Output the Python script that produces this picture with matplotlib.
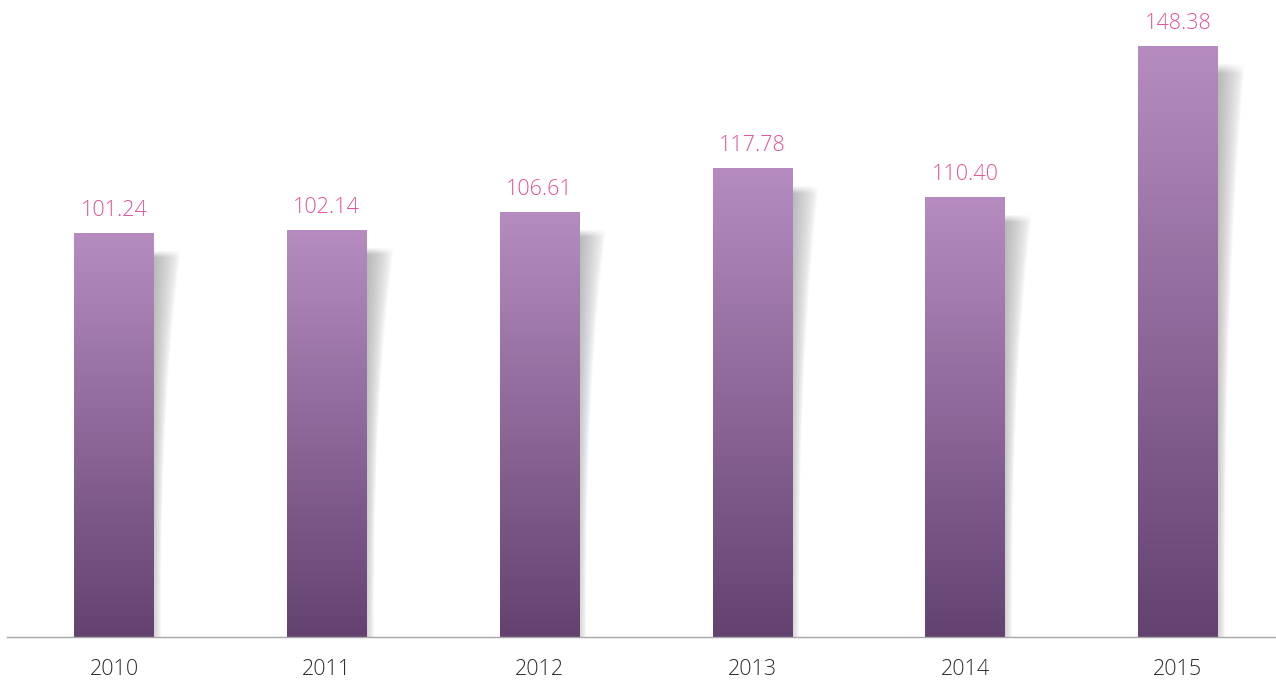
import numpy as np
import matplotlib
matplotlib.use("Agg")
import matplotlib.pyplot as plt
from matplotlib.colors import LinearSegmentedColormap

years = ["2010", "2011", "2012", "2013", "2014", "2015"]
values = [101.24, 102.14, 106.61, 117.78, 110.40, 148.38]

bar_top_color = "#b68cc0"
bar_bottom_color = "#634270"
label_color = "#e0559a"
tick_color = "#2e2e2e"
axis_color = "#a8a8a8"

plt.rcParams["font.family"] = ["Open Sans", "DejaVu Sans"]

W, H, DPI = 1276, 681, 100
fig = plt.figure(figsize=(W / DPI, H / DPI), dpi=DPI)
ax = fig.add_axes([7 / W, 44 / H, 1268 / W, 637 / H])

x = np.arange(len(years))
bar_w = 0.374
ax.set_xlim(-0.503, len(years) - 1 + 0.456)
ax.set_ylim(0, 160)

# pixel -> data conversion helpers
px_x = (ax.get_xlim()[1] - ax.get_xlim()[0]) / 1268
px_y = (ax.get_ylim()[1] - ax.get_ylim()[0]) / 637

bar_cmap = LinearSegmentedColormap.from_list("bar", [bar_bottom_color, bar_top_color])
grad = np.linspace(0, 1, 256).reshape(-1, 1)

for xi, v in zip(x, values):
    x0, x1 = xi - bar_w / 2, xi + bar_w / 2

    # soft drop shadow on the right side of each bar
    sh_top = v - 18 * px_y
    sh_w_px = 30
    ny, nx = 400, 90
    t = np.linspace(0, 1, ny).reshape(-1, 1)          # 0 at top, 1 at bottom
    xs = np.linspace(0, sh_w_px, nx).reshape(1, -1)   # px from bar edge
    edge = 7 + 20 * (1 - t) ** 2.6
    frac = np.clip(1 - xs / edge, 0, 1)
    top_fade = np.clip(t * 385 / 6, 0, 1) * 0.85 + 0.15
    alpha = 0.7 * frac ** 0.7 * top_fade * (0.6 + 0.4 * (1 - t))
    rgba = np.zeros((ny, nx, 4))
    rgba[..., :3] = 0.6
    rgba[..., 3] = np.clip(alpha, 0, 1)
    ax.imshow(rgba, extent=[x1, x1 + sh_w_px * px_x, 0, sh_top],
              origin="upper", aspect="auto", interpolation="bilinear", zorder=1)

    # vertical gradient fill of the bar
    ax.imshow(grad, extent=[x0, x1, 0, v], origin="lower", aspect="auto",
              cmap=bar_cmap, interpolation="bilinear", zorder=2)

    ax.annotate(f"{v:.2f}", xy=(xi, v), xytext=(0, 9), textcoords="offset points",
                ha="center", va="bottom", color=label_color, fontsize=15.5,
                fontweight="light")

ax.set_xticks(x)
ax.set_xticklabels(years, fontsize=15.5, color=tick_color, fontweight="light")
ax.tick_params(axis="x", length=0, pad=15.5)
ax.set_yticks([])
for side in ["top", "right", "left"]:
    ax.spines[side].set_visible(False)
ax.spines["bottom"].set_color(axis_color)
ax.spines["bottom"].set_linewidth(1.0)
ax.spines["bottom"].set_zorder(3)

fig.savefig("out.png", dpi=DPI, facecolor="white")
